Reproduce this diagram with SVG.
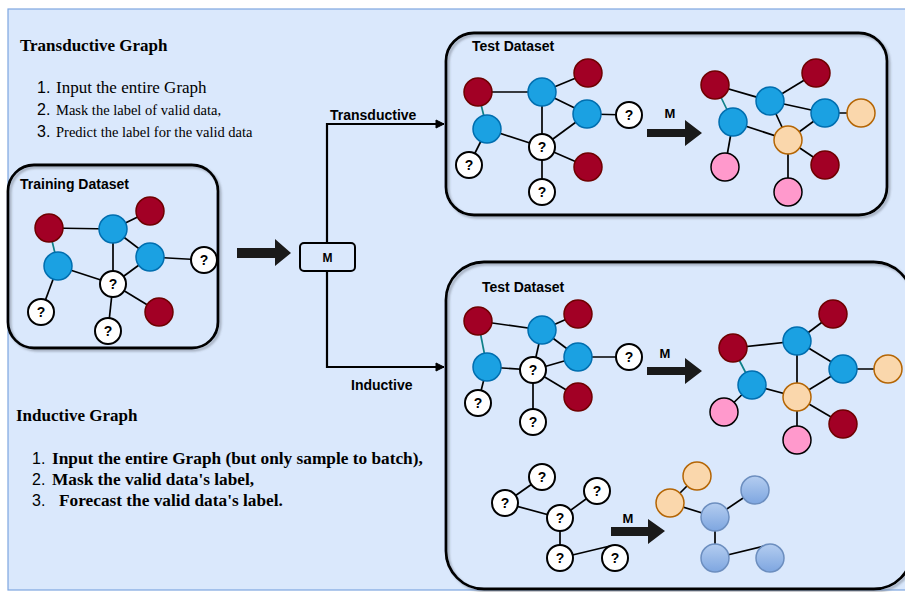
<svg xmlns="http://www.w3.org/2000/svg" width="905" height="592" viewBox="0 0 905 592">
  <defs>
    <filter id="shadow" x="-5%" y="-5%" width="110%" height="110%">
      <feDropShadow dx="2" dy="2" stdDeviation="1" flood-color="#5a6470" flood-opacity="0.45"/>
    </filter>
    <linearGradient id="lbg" x1="0" y1="0" x2="0" y2="1">
      <stop offset="0" stop-color="#b4cdf0"/>
      <stop offset="1" stop-color="#7ea6e0"/>
    </linearGradient>
    <marker id="tip" markerWidth="10" markerHeight="10" refX="9" refY="5" orient="auto" markerUnits="userSpaceOnUse">
      <path d="M1,1 L9,5 L1,9 Z" fill="#000" stroke="#000" stroke-width="1"/>
    </marker>
  </defs>
  <style>
    .serif { font-family: "Liberation Serif", "Times New Roman", serif; fill: #000; }
    .sans { font-family: "Liberation Sans", Arial, sans-serif; fill: #000; }
    .bold { font-weight: bold; }
    .box { fill: none; stroke: #000; stroke-width: 2.8; filter: url(#shadow); }
    .e { stroke: #000; stroke-width: 1.7; fill: none; }
    .teal { stroke: #0e8088; stroke-width: 1.7; fill: none; }
    .conn { stroke: #000; stroke-width: 2.2; fill: none; }
    .red { fill: #a20025; stroke: #6f0000; stroke-width: 1.5; }
    .blue { fill: #1ba1e2; stroke: #006eaf; stroke-width: 1.5; }
    .q { fill: #fff; stroke: #000; stroke-width: 2; }
    .org { fill: #fad7ac; stroke: #b46504; stroke-width: 1.5; }
    .pink { fill: #ff99cc; stroke: #000; stroke-width: 1.5; }
    .lb { fill: url(#lbg); stroke: #6c8ebf; stroke-width: 1.5; }
    .qt { font-family: "Liberation Sans", Arial, sans-serif; font-weight: bold; font-size: 14px; text-anchor: middle; fill: #000; }
    .big { fill: #1a1a1a; }
  </style>

  <!-- page background -->
  <rect x="8" y="9" width="905" height="581" fill="#dae8fc" stroke="#7ea6e0" stroke-width="1.2"/>

  <!-- explanatory text -->
  <g id="transductive-notes">
    <text class="serif bold" x="20" y="51" font-size="17">Transductive Graph</text>
    <text class="sans" x="37" y="93" font-size="16">1.</text>
    <text class="serif" x="56" y="93" font-size="17">Input the entire Graph</text>
    <text class="sans" x="37" y="115" font-size="16">2.</text>
    <text class="serif" x="56" y="115" font-size="14.5">Mask the label of valid data,</text>
    <text class="sans" x="37" y="137" font-size="16">3.</text>
    <text class="serif" x="56" y="137" font-size="14.5">Predict the label for the valid data</text>
  </g>
  <g id="inductive-notes">
    <text class="serif bold" x="16" y="421" font-size="17">Inductive Graph</text>
    <text class="sans" x="32" y="464" font-size="16">1.</text>
    <text class="serif bold" x="52" y="464" font-size="17.3">Input the entire Graph (but only sample to batch),</text>
    <text class="sans" x="32" y="485" font-size="16">2.</text>
    <text class="serif bold" x="52" y="485" font-size="17.3">Mask the valid data's label,</text>
    <text class="sans" x="32" y="506" font-size="16">3.</text>
    <text class="serif bold" x="59" y="506" font-size="17.3">Forecast the valid data's label.</text>
  </g>

  <!-- dataset frames -->
  <g id="training-dataset">
    <rect class="box" x="8" y="165" width="210" height="183" rx="26"/>
    <text class="sans bold" x="20" y="189" font-size="14">Training Dataset</text>
  </g>
  <g id="test-dataset-transductive">
    <rect class="box" x="446" y="33" width="441" height="182" rx="28"/>
    <text class="sans bold" x="472" y="51" font-size="14">Test Dataset</text>
  </g>
  <g id="test-dataset-inductive">
    <rect class="box" x="446" y="262" width="466" height="327" rx="38"/>
    <text class="sans bold" x="482" y="292" font-size="14">Test Dataset</text>
  </g>

  <!-- model block -->
  <g id="model">
    <rect x="300" y="243" width="55" height="28" rx="4" fill="none" stroke="#000" stroke-width="2"/>
    <text class="sans bold" x="327.5" y="262" font-size="12" text-anchor="middle">M</text>
  </g>

  <!-- connectors -->
  <g id="connectors">
    <path class="big" d="M237,248 H275 V239 L291,253 L275,266 V258 H237 Z"/>
    <path class="conn" d="M327,243 V124 H444" marker-end="url(#tip)"/>
    <path class="conn" d="M327,271 V367 H444" marker-end="url(#tip)"/>
    <text class="sans bold" x="330" y="120" font-size="14">Transductive</text>
    <text class="sans bold" x="351" y="390" font-size="14">Inductive</text>

    <!-- model arrows inside the test frames -->
    <path class="big" d="M647,129 H685 V120 L702,133 L685,146 V137 H647 Z"/>
    <text class="sans bold" x="670" y="118" font-size="13" text-anchor="middle">M</text>
    <path class="big" d="M647,367 H685 V358 L702,371 L685,384 V375 H647 Z"/>
    <text class="sans bold" x="665" y="358" font-size="13" text-anchor="middle">M</text>
    <path class="big" d="M611,527 H648 V519 L665,531 L648,544 V536 H611 Z"/>
    <text class="sans bold" x="628" y="523" font-size="13" text-anchor="middle">M</text>

    <!-- training graph edges -->
    <g id="edges-training">
      <line class="e" x1="49" y1="228" x2="113" y2="229"/>
      <line class="teal" x1="49" y1="228" x2="58" y2="266"/>
      <line class="e" x1="113" y1="229" x2="150" y2="211"/>
      <line class="e" x1="113" y1="229" x2="150" y2="257"/>
      <line class="e" x1="113" y1="229" x2="113" y2="284"/>
      <line class="e" x1="58" y1="266" x2="113" y2="284"/>
      <line class="e" x1="58" y1="266" x2="41" y2="312"/>
      <line class="e" x1="150" y1="257" x2="204" y2="260"/>
      <line class="e" x1="150" y1="257" x2="113" y2="284"/>
      <line class="e" x1="113" y1="284" x2="108" y2="331"/>
      <line class="e" x1="113" y1="284" x2="159" y2="312"/>
    </g>
    <!-- transductive test graph edges (before) -->
    <g id="edges-test-a">
      <line class="e" x1="478" y1="92" x2="542" y2="92"/>
      <line class="teal" x1="478" y1="92" x2="487" y2="129"/>
      <line class="e" x1="542" y1="92" x2="588" y2="73"/>
      <line class="e" x1="542" y1="92" x2="587" y2="114"/>
      <line class="e" x1="542" y1="92" x2="542" y2="147"/>
      <line class="e" x1="487" y1="129" x2="542" y2="147"/>
      <line class="e" x1="487" y1="129" x2="469" y2="165"/>
      <line class="e" x1="587" y1="114" x2="629" y2="115"/>
      <line class="e" x1="587" y1="114" x2="542" y2="147"/>
      <line class="e" x1="542" y1="147" x2="542" y2="192"/>
      <line class="e" x1="542" y1="147" x2="588" y2="167"/>
    </g>
    <!-- transductive test graph edges (after) -->
    <g id="edges-test-b">
      <line class="e" x1="715" y1="85" x2="770" y2="101"/>
      <line class="teal" x1="715" y1="85" x2="733" y2="122"/>
      <line class="e" x1="770" y1="101" x2="816" y2="73"/>
      <line class="e" x1="770" y1="101" x2="825" y2="113"/>
      <line class="e" x1="770" y1="101" x2="788" y2="140"/>
      <line class="e" x1="733" y1="122" x2="788" y2="140"/>
      <line class="e" x1="733" y1="122" x2="725" y2="167"/>
      <line class="e" x1="825" y1="113" x2="861" y2="113"/>
      <line class="e" x1="825" y1="113" x2="788" y2="140"/>
      <line class="e" x1="788" y1="140" x2="788" y2="192"/>
      <line class="e" x1="788" y1="140" x2="825" y2="165"/>
    </g>
    <!-- inductive test graph edges (before) -->
    <g id="edges-test-c">
      <line class="e" x1="478" y1="321" x2="542" y2="330"/>
      <line class="teal" x1="478" y1="321" x2="487" y2="367"/>
      <line class="e" x1="542" y1="330" x2="578" y2="314"/>
      <line class="e" x1="542" y1="330" x2="578" y2="357"/>
      <line class="e" x1="542" y1="330" x2="533" y2="370"/>
      <line class="e" x1="487" y1="367" x2="533" y2="370"/>
      <line class="e" x1="487" y1="367" x2="478" y2="403"/>
      <line class="e" x1="578" y1="357" x2="629" y2="357"/>
      <line class="e" x1="578" y1="357" x2="533" y2="370"/>
      <line class="e" x1="533" y1="370" x2="533" y2="422"/>
      <line class="e" x1="533" y1="370" x2="578" y2="397"/>
    </g>
    <!-- inductive test graph edges (after) -->
    <g id="edges-test-d">
      <line class="e" x1="733" y1="348" x2="797" y2="341"/>
      <line class="teal" x1="733" y1="348" x2="752" y2="385"/>
      <line class="e" x1="797" y1="341" x2="833" y2="314"/>
      <line class="e" x1="797" y1="341" x2="843" y2="369"/>
      <line class="e" x1="797" y1="341" x2="797" y2="397"/>
      <line class="e" x1="752" y1="385" x2="797" y2="397"/>
      <line class="e" x1="752" y1="385" x2="724" y2="412"/>
      <line class="e" x1="843" y1="369" x2="888" y2="369"/>
      <line class="e" x1="843" y1="369" x2="797" y2="397"/>
      <line class="e" x1="797" y1="397" x2="797" y2="440"/>
      <line class="e" x1="797" y1="397" x2="843" y2="424"/>
    </g>
    <!-- sampled batch edges -->
    <g id="edges-batch-e">
      <line class="e" x1="542" y1="477" x2="505" y2="503"/>
      <line class="e" x1="505" y1="503" x2="560" y2="518"/>
      <line class="e" x1="560" y1="518" x2="597" y2="491"/>
      <line class="e" x1="560" y1="518" x2="560" y2="558"/>
      <line class="e" x1="560" y1="558" x2="610" y2="546"/>
    </g>
    <g id="edges-batch-f">
      <line class="e" x1="697" y1="476" x2="670" y2="503"/>
      <line class="e" x1="670" y1="503" x2="715" y2="517"/>
      <line class="e" x1="715" y1="517" x2="755" y2="490"/>
      <line class="e" x1="715" y1="517" x2="715" y2="558"/>
      <line class="e" x1="715" y1="558" x2="765" y2="546"/>
    </g>
  </g>

  <!-- training graph nodes -->
  <g id="tr-r1"><circle class="red" cx="49" cy="228" r="14"/></g>
  <g id="tr-b1"><circle class="blue" cx="113" cy="229" r="14"/></g>
  <g id="tr-r2"><circle class="red" cx="150" cy="211" r="14"/></g>
  <g id="tr-b2"><circle class="blue" cx="58" cy="266" r="14"/></g>
  <g id="tr-b3"><circle class="blue" cx="150" cy="257" r="14"/></g>
  <g id="tr-q1"><circle class="q" cx="204" cy="260" r="13"/><text class="qt" x="204" y="265">?</text></g>
  <g id="tr-q2"><circle class="q" cx="113" cy="284" r="13"/><text class="qt" x="113" y="289">?</text></g>
  <g id="tr-q3"><circle class="q" cx="41" cy="312" r="13"/><text class="qt" x="41" y="317">?</text></g>
  <g id="tr-q4"><circle class="q" cx="108" cy="331" r="13"/><text class="qt" x="108" y="336">?</text></g>
  <g id="tr-r3"><circle class="red" cx="159" cy="312" r="14"/></g>

  <!-- transductive test graph, before -->
  <g id="ta-r1"><circle class="red" cx="478" cy="92" r="14"/></g>
  <g id="ta-b1"><circle class="blue" cx="542" cy="92" r="14"/></g>
  <g id="ta-r2"><circle class="red" cx="588" cy="73" r="14"/></g>
  <g id="ta-b2"><circle class="blue" cx="487" cy="129" r="14"/></g>
  <g id="ta-b3"><circle class="blue" cx="587" cy="114" r="14"/></g>
  <g id="ta-q1"><circle class="q" cx="629" cy="115" r="13"/><text class="qt" x="629" y="120">?</text></g>
  <g id="ta-q2"><circle class="q" cx="542" cy="147" r="13"/><text class="qt" x="542" y="152">?</text></g>
  <g id="ta-q3"><circle class="q" cx="469" cy="165" r="13"/><text class="qt" x="469" y="170">?</text></g>
  <g id="ta-q4"><circle class="q" cx="542" cy="192" r="13"/><text class="qt" x="542" y="197">?</text></g>
  <g id="ta-r3"><circle class="red" cx="588" cy="167" r="14"/></g>

  <!-- transductive test graph, after -->
  <g id="tb-r1"><circle class="red" cx="715" cy="85" r="14"/></g>
  <g id="tb-b1"><circle class="blue" cx="770" cy="101" r="14"/></g>
  <g id="tb-r2"><circle class="red" cx="816" cy="73" r="14"/></g>
  <g id="tb-b2"><circle class="blue" cx="733" cy="122" r="14"/></g>
  <g id="tb-b3"><circle class="blue" cx="825" cy="113" r="14"/></g>
  <g id="tb-o1"><circle class="org" cx="861" cy="113" r="14"/></g>
  <g id="tb-o2"><circle class="org" cx="788" cy="140" r="14"/></g>
  <g id="tb-p1"><circle class="pink" cx="725" cy="167" r="14"/></g>
  <g id="tb-p2"><circle class="pink" cx="788" cy="192" r="14"/></g>
  <g id="tb-r3"><circle class="red" cx="825" cy="165" r="14"/></g>

  <!-- inductive test graph, before -->
  <g id="tc-r1"><circle class="red" cx="478" cy="321" r="14"/></g>
  <g id="tc-b1"><circle class="blue" cx="542" cy="330" r="14"/></g>
  <g id="tc-r2"><circle class="red" cx="578" cy="314" r="14"/></g>
  <g id="tc-b2"><circle class="blue" cx="487" cy="367" r="14"/></g>
  <g id="tc-b3"><circle class="blue" cx="578" cy="357" r="14"/></g>
  <g id="tc-q1"><circle class="q" cx="629" cy="357" r="13"/><text class="qt" x="629" y="362">?</text></g>
  <g id="tc-q2"><circle class="q" cx="533" cy="370" r="13"/><text class="qt" x="533" y="375">?</text></g>
  <g id="tc-q3"><circle class="q" cx="478" cy="403" r="13"/><text class="qt" x="478" y="408">?</text></g>
  <g id="tc-q4"><circle class="q" cx="533" cy="422" r="13"/><text class="qt" x="533" y="427">?</text></g>
  <g id="tc-r3"><circle class="red" cx="578" cy="397" r="14"/></g>

  <!-- inductive test graph, after -->
  <g id="td-r1"><circle class="red" cx="733" cy="348" r="14"/></g>
  <g id="td-b1"><circle class="blue" cx="797" cy="341" r="14"/></g>
  <g id="td-r2"><circle class="red" cx="833" cy="314" r="14"/></g>
  <g id="td-b2"><circle class="blue" cx="752" cy="385" r="14"/></g>
  <g id="td-b3"><circle class="blue" cx="843" cy="369" r="14"/></g>
  <g id="td-o1"><circle class="org" cx="888" cy="369" r="14"/></g>
  <g id="td-o2"><circle class="org" cx="797" cy="397" r="14"/></g>
  <g id="td-p1"><circle class="pink" cx="724" cy="412" r="14"/></g>
  <g id="td-p2"><circle class="pink" cx="797" cy="440" r="14"/></g>
  <g id="td-r3"><circle class="red" cx="843" cy="424" r="14"/></g>

  <!-- sampled batch, before -->
  <g id="be-q1"><circle class="q" cx="542" cy="477" r="13"/><text class="qt" x="542" y="482">?</text></g>
  <g id="be-q2"><circle class="q" cx="505" cy="503" r="13"/><text class="qt" x="505" y="508">?</text></g>
  <g id="be-q3"><circle class="q" cx="597" cy="491" r="13"/><text class="qt" x="597" y="496">?</text></g>
  <g id="be-q4"><circle class="q" cx="560" cy="518" r="13"/><text class="qt" x="560" y="523">?</text></g>
  <g id="be-q5"><circle class="q" cx="560" cy="558" r="13"/><text class="qt" x="560" y="563">?</text></g>
  <g id="be-q6"><circle class="q" cx="615" cy="558" r="13"/><text class="qt" x="615" y="563">?</text></g>

  <!-- sampled batch, after -->
  <g id="bf-o1"><circle class="org" cx="697" cy="476" r="14"/></g>
  <g id="bf-o2"><circle class="org" cx="670" cy="503" r="14"/></g>
  <g id="bf-l1"><circle class="lb" cx="755" cy="490" r="14"/></g>
  <g id="bf-l2"><circle class="lb" cx="715" cy="517" r="14"/></g>
  <g id="bf-l3"><circle class="lb" cx="715" cy="558" r="14"/></g>
  <g id="bf-l4"><circle class="lb" cx="770" cy="558" r="14"/></g>
</svg>
